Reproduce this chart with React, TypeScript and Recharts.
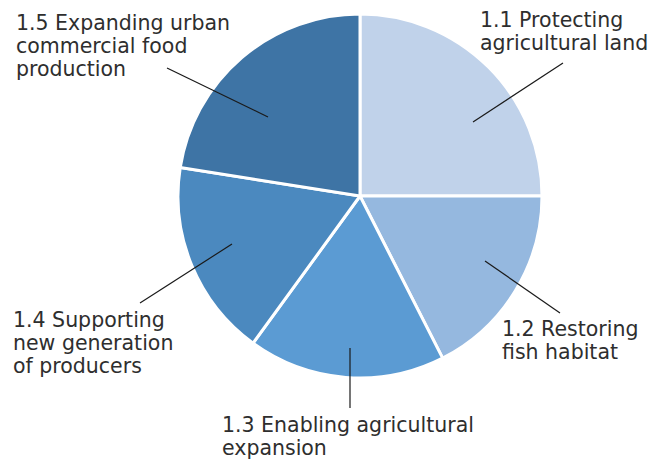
import { PieChart, Pie, Cell } from "recharts";

const categories = [
  "1.1 Protecting agricultural land",
  "1.2 Restoring fish habitat",
  "1.3 Enabling agricultural expansion",
  "1.4 Supporting new generation of producers",
  "1.5 Expanding urban commercial food production",
];
const values = [10, 7, 7, 7, 9];
const labelLines = [
  ["1.1 Protecting", "agricultural land"],
  ["1.2 Restoring", "fish habitat"],
  ["1.3 Enabling agricultural", "expansion"],
  ["1.4 Supporting", "new generation", "of producers"],
  ["1.5 Expanding urban", "commercial food", "production"],
];

const colors = ["#c0d2ea", "#95b8df", "#5b9bd3", "#4b89bf", "#3e74a5"];

// label placement relative to the pie centre: leader line (inner -> outer) and text origin
const labelLayout = [
  { ix: 113, iy: -74, ox: 203, oy: -133, tx: 120, ty: -169 },
  { ix: 125, iy: 65, ox: 200, oy: 117, tx: 142, ty: 140 },
  { ix: -10, iy: 152, ox: -10, oy: 212, tx: -138, ty: 236 },
  { ix: -128, iy: 48, ox: -220, oy: 107, tx: -347, ty: 131 },
  { ix: -92, iy: -79, ox: -193, oy: -128, tx: -344, ty: -166 },
];

const data = categories.map((name, i) => ({ name, value: values[i] }));

const renderLabel = (props: any) => {
  const { cx, cy, index } = props;
  const l = labelLayout[index];
  return (
    <g>
      <line
        x1={cx + l.ix}
        y1={cy + l.iy}
        x2={cx + l.ox}
        y2={cy + l.oy}
        stroke="#1a1a1a"
        strokeWidth={1.2}
      />
      <text
        x={cx + l.tx}
        y={cy + l.ty}
        fill="#2e2e2e"
        fontSize={20.5}
        fontFamily="'DejaVu Sans', sans-serif"
      >
        {labelLines[index].map((t, j) => (
          <tspan key={j} x={cx + l.tx} dy={j === 0 ? 0 : 23.2}>
            {t}
          </tspan>
        ))}
      </text>
    </g>
  );
};

export default function App() {
  return (
    <div style={{ position: "absolute", left: 0, top: 0, background: "#fff" }}>
      <PieChart width={667} height={460} margin={{ top: 0, right: 0, bottom: 0, left: 0 }}>
        <Pie
          data={data}
          dataKey="value"
          nameKey="name"
          cx={360}
          cy={196}
          outerRadius={182}
          startAngle={90}
          endAngle={-270}
          stroke="#ffffff"
          strokeWidth={3}
          label={renderLabel}
          labelLine={false}
          isAnimationActive={false}
        >
          {data.map((d, i) => (
            <Cell key={d.name} fill={colors[i]} />
          ))}
        </Pie>
      </PieChart>
    </div>
  );
}
